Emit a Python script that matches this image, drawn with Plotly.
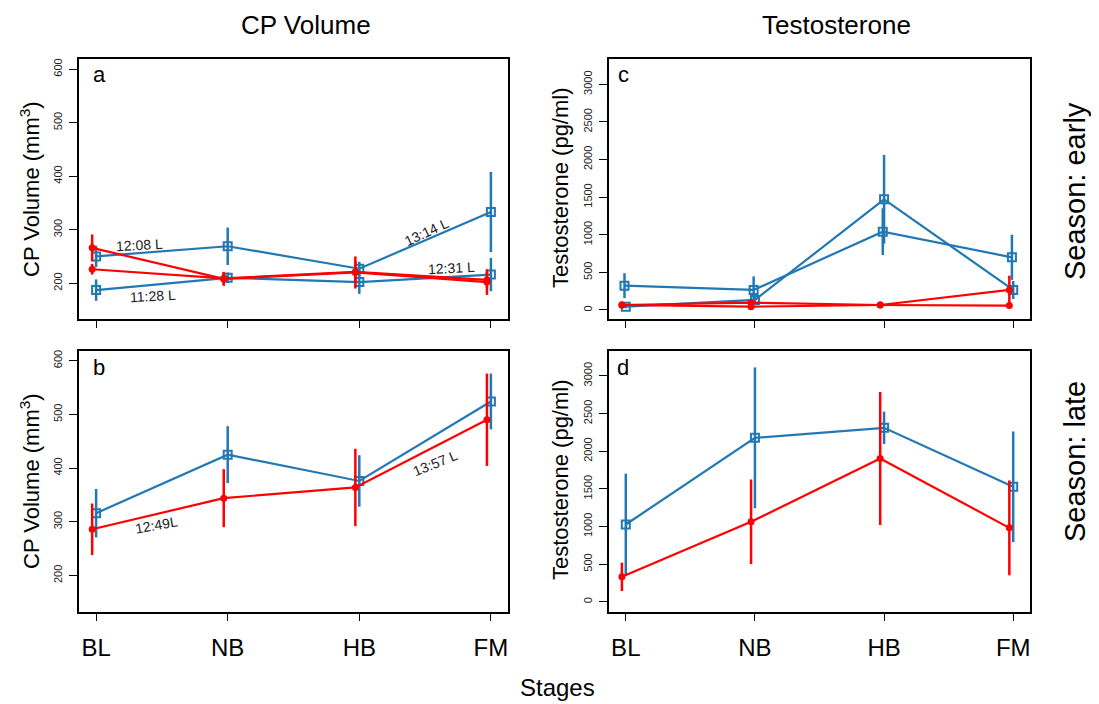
import plotly.graph_objects as go

stages = ["BL", "NB", "HB", "FM"]

# CP volume, early season (panel a)
cp_early_blue1 = [250, 269, 227, 333]
cp_early_blue1_err = [20, 35, 13, 75]
cp_early_blue2 = [187, 210, 202, 216]
cp_early_blue2_err = [20, 10, 22, 31]
cp_early_red1 = [266, 208, 220, 202]
cp_early_red1_err = [25, 13, 30, 24]
cp_early_red2 = [226, 209, 221, 206]
cp_early_red2_err = [10, 12, 20, 15]

# CP volume, late season (panel b)
cp_late_blue = [316, 425, 376, 524]
cp_late_blue_err = [45, 53, 48, 52]
cp_late_red = [286, 344, 364, 490]
cp_late_red_err = [48, 54, 72, 86]

# Testosterone, early season (panel c)
t_early_blue1 = [323, 266, 1041, 700]
t_early_blue1_err = [166, 180, 310, 300]
t_early_blue2 = [44, 133, 1471, 266]
t_early_blue2_err = [20, 50, 590, 120]
t_early_red1 = [66, 97, 66, 266]
t_early_red1_err = [20, 20, 10, 190]
t_early_red2 = [66, 44, 66, 58]
t_early_red2_err = [10, 10, 10, 10]

# Testosterone, late season (panel d)
t_late_blue = [1027, 2177, 2310, 1527]
t_late_blue_err = [675, 935, 215, 735]
t_late_red = [332, 1062, 1903, 982]
t_late_red_err = [188, 562, 883, 630]

# Photoperiod labels
cp_early_labels = ["12:08 L", "11:28 L", "13:14 L", "12:31 L"]
cp_early_label_x = [0.33, 0.43, 2.51, 2.70]
cp_early_label_y = [272, 176, 296, 229]
cp_early_label_angle = [-3, -3, -25, -3]
cp_late_labels = ["12:49L", "13:57 L"]
cp_late_label_x = [0.46, 2.58]
cp_late_label_y = [294, 409]
cp_late_label_angle = [-10, -22]

BLUE = "#2178B4"
RED = "#FF0000"
FONT = "Liberation Sans, Arial, Helvetica, sans-serif"
# the page body has an 8px margin; size the figure so it fits the window
OFF = 8
W, H = 1099 - OFF, 704 - OFF

fig = go.Figure()

def add_series(xref, yref, vals, errs, color, offset):
    xs = [i + offset for i in range(len(vals))]
    if color == BLUE:
        marker = dict(symbol="square-open", size=8, color=color, line=dict(width=2, color=color))
    else:
        marker = dict(symbol="circle", size=7, color=color)
    fig.add_trace(go.Scatter(
        x=xs, y=vals, xaxis=xref, yaxis=yref, mode="lines+markers",
        line=dict(color=color, width=2.2), marker=marker,
        error_y=dict(type="data", array=errs, color=color, thickness=2.5, width=0),
        showlegend=False, hoverinfo="skip"))

# panel a -> x/y, panel b -> x3/y3, panel c -> x2/y2, panel d -> x4/y4
add_series("x", "y", cp_early_blue1, cp_early_blue1_err, BLUE, 0)
add_series("x", "y", cp_early_blue2, cp_early_blue2_err, BLUE, 0)
add_series("x", "y", cp_early_red1, cp_early_red1_err, RED, -0.03)
add_series("x", "y", cp_early_red2, cp_early_red2_err, RED, -0.03)

add_series("x3", "y3", cp_late_blue, cp_late_blue_err, BLUE, 0)
add_series("x3", "y3", cp_late_red, cp_late_red_err, RED, -0.03)

add_series("x2", "y2", t_early_blue1, t_early_blue1_err, BLUE, -0.01)
add_series("x2", "y2", t_early_blue2, t_early_blue2_err, BLUE, 0)
add_series("x2", "y2", t_early_red1, t_early_red1_err, RED, -0.03)
add_series("x2", "y2", t_early_red2, t_early_red2_err, RED, -0.03)

add_series("x4", "y4", t_late_blue, t_late_blue_err, BLUE, 0)
add_series("x4", "y4", t_late_red, t_late_red_err, RED, -0.03)

def px_x(p):
    return (p - OFF) / W

def px_y(p):
    return 1 - (p - OFF) / H

left_dom = [px_x(79), px_x(508)]
right_dom = [px_x(609), px_x(1030)]
top_dom = [px_y(319), px_y(59)]
bot_dom = [px_y(612), px_y(351)]

def xaxis(domain, anchor, labels):
    return dict(domain=domain, anchor=anchor, range=[-0.13, 3.13],
                tickvals=[0, 1, 2, 3], ticktext=stages,
                showticklabels=labels, ticks="outside", ticklen=7, tickwidth=1.2,
                tickcolor="black", showline=True, linecolor="black", linewidth=1.5,
                mirror=True, showgrid=False, zeroline=False,
                tickfont=dict(size=24, color="black", family=FONT),
                ticklabelstandoff=6)

def yaxis(domain, anchor, rng, tv):
    return dict(domain=domain, anchor=anchor, range=rng, tickvals=tv,
                ticks="outside", ticklen=8, tickwidth=1.2, tickcolor="black",
                showline=True, linecolor="black", linewidth=1.5, mirror=True,
                showgrid=False, zeroline=False, tickangle=-90,
                tickfont=dict(size=11, color="#222", family=FONT),
                ticklabelstandoff=3)

cp_ticks = [200, 300, 400, 500, 600]
t_ticks = [0, 500, 1000, 1500, 2000, 2500, 3000]

fig.update_layout(
    width=W, height=H, margin=dict(l=0, r=0, t=0, b=0),
    paper_bgcolor="white", plot_bgcolor="white",
    font=dict(family=FONT, color="black"),
    xaxis=xaxis(left_dom, "y", False),
    yaxis=yaxis(top_dom, "x", [133, 619], cp_ticks),
    xaxis2=xaxis(right_dom, "y2", False),
    yaxis2=yaxis(top_dom, "x2", [-120, 3336], t_ticks),
    xaxis3=xaxis(left_dom, "y3", True),
    yaxis3=yaxis(bot_dom, "x3", [132, 618], cp_ticks),
    xaxis4=xaxis(right_dom, "y4", True),
    yaxis4=yaxis(bot_dom, "x4", [-135, 3330], t_ticks),
)

ann = []
def paper_text(text, x, y, size, angle=0):
    ann.append(dict(text=text, x=px_x(x), y=px_y(y), xref="paper", yref="paper",
                    showarrow=False, textangle=angle, xanchor="center", yanchor="middle",
                    font=dict(size=size, color="black", family=FONT)))

paper_text("CP Volume", 306, 25, 26)
paper_text("Testosterone", 836, 25, 26)
paper_text("Stages", 557, 687, 24)
paper_text("Season: early", 1075, 191, 29, -90)
paper_text("Season: late", 1075, 462, 29, -90)
paper_text("CP Volume (mm<sup>3</sup>)", 30, 189, 22, -90)
paper_text("CP Volume (mm<sup>3</sup>)", 30, 481, 22, -90)
paper_text("Testosterone (pg/ml)", 561, 188, 22, -90)
paper_text("Testosterone (pg/ml)", 561, 480, 22, -90)

for letter, xp, yp in [("a", 99, 75), ("b", 99, 367), ("c", 623, 75), ("d", 623, 367)]:
    paper_text(letter, xp, yp, 22)

for t, x, y, a in zip(cp_early_labels, cp_early_label_x, cp_early_label_y, cp_early_label_angle):
    ann.append(dict(text=t, x=x, y=y, xref="x", yref="y", showarrow=False, textangle=a,
                    font=dict(size=14, color="#222", family=FONT)))
for t, x, y, a in zip(cp_late_labels, cp_late_label_x, cp_late_label_y, cp_late_label_angle):
    ann.append(dict(text=t, x=x, y=y, xref="x3", yref="y3", showarrow=False, textangle=a,
                    font=dict(size=14, color="#222", family=FONT)))

fig.update_layout(annotations=ann)
fig.write_html("out.html")
